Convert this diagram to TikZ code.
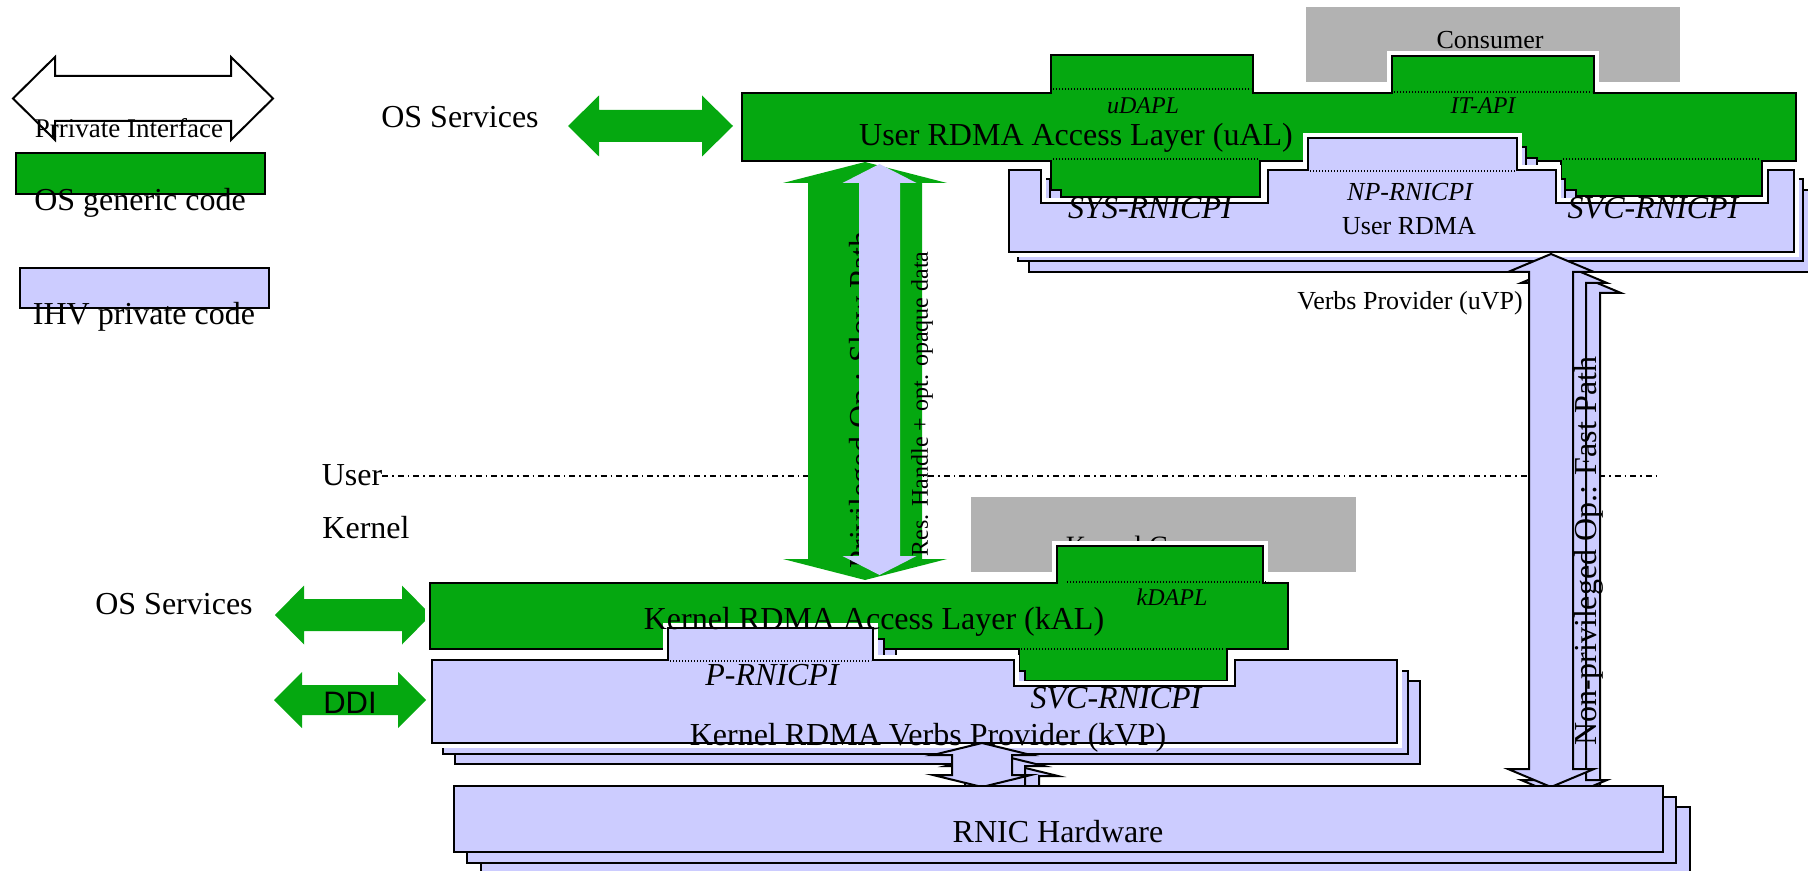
\documentclass[tikz,border=0pt]{standalone}
\usepackage{fontspec}
\setmainfont{Liberation Serif}
\newfontfamily\arialfont{Liberation Sans}
\definecolor{osgreen}{RGB}{5,168,16}
\definecolor{ihvblue}{RGB}{204,204,255}
\definecolor{consumergray}{RGB}{178,178,178}

% vertical double block arrow: style, centre x, top tip y, bottom tip y, half shaft, half head, head length
\newcommand\vblockarrow[7]{%
  \path[#1] (#2,#3) -- ({#2+#6},{#3+#7}) -- ({#2+#5},{#3+#7}) -- ({#2+#5},{#4-#7}) -- ({#2+#6},{#4-#7}) -- (#2,#4)
    -- ({#2-#6},{#4-#7}) -- ({#2-#5},{#4-#7}) -- ({#2-#5},{#3+#7}) -- ({#2-#6},{#3+#7}) -- cycle;}
% horizontal double block arrow: style, centre y, left tip x, right tip x, half shaft, half head, head length
\newcommand\hblockarrow[7]{%
  \path[#1] (#3,#2) -- ({#3+#7},{#2-#6}) -- ({#3+#7},{#2-#5}) -- ({#4-#7},{#2-#5}) -- ({#4-#7},{#2-#6}) -- (#4,#2)
    -- ({#4-#7},{#2+#6}) -- ({#4-#7},{#2+#5}) -- ({#3+#7},{#2+#5}) -- ({#3+#7},{#2+#6}) -- cycle;}

\begin{document}
\begin{tikzpicture}[x=0.5pt,y=-0.5pt,
  every node/.style={inner sep=0pt, outer sep=0pt},
  outline/.style={draw=black, line width=1pt, line join=miter},
  halo/.style={preaction={draw=white, line width=5pt}},
  osbox/.style={fill=osgreen, outline, halo},
  ihvbox/.style={fill=ihvblue, outline, halo},
  ihvcopy/.style={fill=ihvblue, outline},
  dotline/.style={line width=0.6pt, dash pattern=on 0.6pt off 0.9pt},
  big/.style={font=\fontsize{16}{19}\selectfont},
  mid/.style={font=\fontsize{13}{16}\selectfont},
  small/.style={font=\fontsize{12}{14}\selectfont},
  bigit/.style={font=\fontsize{16}{19}\selectfont\itshape},
  midit/.style={font=\fontsize{13}{16}\selectfont\itshape},
  smallit/.style={font=\fontsize{12}{14}\selectfont\itshape}]
\useasboundingbox (0,0) rectangle (1808,871);

% ---------- legend ----------
\hblockarrow{draw, line width=1pt, fill=white}{98.5}{13}{273}{22.5}{41.5}{42}
\node[font=\fontsize{13.5}{16}\selectfont] (lgpriv) at (129,128) {Prrivate Interface};
\path[fill=osgreen, outline] (16,153) rectangle (265,194);
\node[big] (lgos) at (140,203) {OS generic code};
\path[fill=ihvblue, outline] (20,268) rectangle (269,308);
\node[big] (lgihv) at (144,317) {IHV private code};

% ---------- OS services / DDI ----------
\node[big] (ossu) at (460,117) {OS Services};
\hblockarrow{fill=osgreen}{126}{568}{733}{16}{30.5}{31}
\node[big] (ossk) at (174,604) {OS Services};
\hblockarrow{fill=osgreen}{615}{275}{431}{16}{29.5}{29}
\hblockarrow{fill=osgreen}{700}{274}{426}{15}{28}{28}
\node[font=\arialfont\fontsize{15.5}{18}\selectfont] (ddi) at (350,703) {DDI};

% ---------- user / kernel boundary ----------
\node[big] (user) at (352,475) {User};
\node[big] (kernel) at (366,528) {Kernel};
\coordinate (bndend) at (1660,476);
\draw[line width=0.6pt, dash pattern=on 3pt off 2pt on 0.8pt off 2pt] (user.east) ++(0,1) -- (bndend);

% ---------- consumers ----------
\path[fill=consumergray] (1306,7) rectangle (1680,82);
\node[mid] (cons) at (1490,40) {Consumer};
\path[fill=consumergray] (971,497) rectangle (1356,572);
\node[font=\fontsize{14}{17}\selectfont] (kcons) at (1165,546) {Kernel Consumer};

% ---------- user access layer ----------
\path[osbox] (742,93) -- (1051,93) -- (1051,55) -- (1253,55) -- (1253,93) -- (1392,93) -- (1392,56) -- (1594,56)
  -- (1594,93) -- (1796,93) -- (1796,161) -- (1762,161) -- (1762,196) -- (1561,196) -- (1561,161) -- (1260,161)
  -- (1260,197) -- (1051,197) -- (1051,161) -- (742,161) -- cycle;
\draw[dotline] (1053,89) -- (1251,89);
\draw[dotline] (1394,92) -- (1592,92);
\draw[dotline] (1053,159) -- (1258,159);
\draw[dotline] (1563,159) -- (1760,159);

% ---------- kernel access layer ----------
\path[osbox] (430,583) -- (1057,583) -- (1057,546) -- (1263,546) -- (1263,583) -- (1288,583) -- (1288,649)
  -- (1227,649) -- (1227,681) -- (1019,681) -- (1019,649) -- (430,649) -- cycle;
\draw[dotline] (1067,582) -- (1268,582);
\draw[dotline] (1021,649) -- (1225,649);

% ---------- user verbs provider stack ----------
\foreach \dx/\dy in {20/20, 9/9}
  \path[ihvcopy, shift={(\dx,\dy)}] (1009,170) -- (1041,170) -- (1041,203) -- (1268,203) -- (1268,170) -- (1308,170)
    -- (1308,138) -- (1517,138) -- (1517,170) -- (1556,170) -- (1556,203) -- (1768,203) -- (1768,170) -- (1794,170)
    -- (1794,252) -- (1009,252) -- cycle;
\path[ihvbox] (1009,170) -- (1041,170) -- (1041,203) -- (1268,203) -- (1268,170) -- (1308,170)
    -- (1308,138) -- (1517,138) -- (1517,170) -- (1556,170) -- (1556,203) -- (1768,203) -- (1768,170) -- (1794,170)
    -- (1794,252) -- (1009,252) -- cycle;
\draw[dotline] (1310,171) -- (1515,171);

% ---------- kernel verbs provider stack ----------
\foreach \dx/\dy in {23/21, 11/11}
  \path[ihvcopy, shift={(\dx,\dy)}] (432,660) -- (668,660) -- (668,628) -- (873,628) -- (873,660) -- (1014,660)
    -- (1014,686) -- (1235,686) -- (1235,660) -- (1397,660) -- (1397,743) -- (432,743) -- cycle;
\path[ihvbox] (432,660) -- (668,660) -- (668,628) -- (873,628) -- (873,660) -- (1014,660)
    -- (1014,686) -- (1235,686) -- (1235,660) -- (1397,660) -- (1397,743) -- (432,743) -- cycle;
\draw[dotline] (670,661) -- (871,661);

% ---------- layer labels ----------
\node[smallit] (udapl) at (1143,106) {uDAPL};
\node[smallit] (itapi) at (1483,106) {IT-API};
\node[big] (ual) at (1076,138) {User RDMA Access Layer (uAL)};
\node[bigit] (sysrni) at (1150,208) {SYS-RNICPI};
\node[midit] (nprni) at (1410,192) {NP-RNICPI};
\node[mid] (uvp1) at (1409,226) {User RDMA};
\node[bigit] (svcrniu) at (1653,208) {SVC-RNICPI};
\node[mid] (uvp2) at (1410,303) {Verbs Provider (uVP)};
\node[smallit] (kdapl) at (1172,597) {kDAPL};
\node[big] (kal) at (874,622) {Kernel RDMA Access Layer (kAL)};
\node[bigit] (prni) at (772,675) {P-RNICPI};
\node[bigit] (svcrnik) at (1116,698) {SVC-RNICPI};
\node[big] (kvp) at (928,738) {Kernel RDMA Verbs Provider (kVP)};

% ---------- fast path and kernel-to-hardware arrows ----------
\foreach \dx/\dy in {27/21, 13/11} {
  \begin{scope}[shift={(\dx,\dy)}]
    \vblockarrow{ihvcopy}{1551}{254}{787}{22}{43}{18}
    \vblockarrow{ihvcopy}{982}{743}{787}{30}{49}{12}
  \end{scope}
}
\vblockarrow{ihvcopy}{1551}{254}{787}{22}{43}{18}
\vblockarrow{ihvcopy}{982}{743}{787}{30}{49}{12}
\node[big, rotate=90] (fast) at (1589,551) {Non-privileged Op.: Fast Path};

% ---------- RNIC hardware stack ----------
\foreach \dx/\dy in {27/21, 13/11}
  \path[ihvcopy] (454+\dx,786+\dy) rectangle (1663+\dx,852+\dy);
\path[ihvcopy] (454,786) rectangle (1663,852);
\node[big] (rnic) at (1058,832) {RNIC Hardware};

% ---------- slow path between access layers ----------
\vblockarrow{fill=osgreen}{865}{162}{580}{57}{82}{21}
\node[big, rotate=90] (slow) at (864,400) {Privileged Op.: Slow Path};
\vblockarrow{fill=ihvblue}{879.5}{164}{575}{20.5}{37}{19}
\node[small, rotate=90] (res) at (922,404) {Res. Handle + opt. opaque data};
\end{tikzpicture}
\end{document}
